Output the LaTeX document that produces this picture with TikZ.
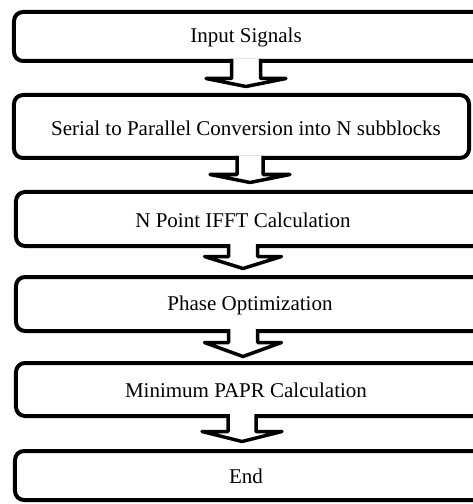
\documentclass[tikz,border=0pt]{standalone}
\usepackage{fontspec}
\setmainfont{Liberation Serif}
\usetikzlibrary{calc}
\tikzset{
  stepbox/.style={draw=black, fill=white, line width=4bp, rounded corners=9bp,
    rectangle, inner sep=0pt, outer sep=0pt},
  steptext/.style={font=\fontsize{21bp}{25bp}\selectfont, inner sep=0pt, anchor=center},
  barrow/.style={draw=black, fill=white, line width=3.5bp, line join=round}
}
\begin{document}
\begin{tikzpicture}[x=1bp, y=-1bp]
\useasboundingbox (0,0) rectangle (473,504);
\clip (0,0) rectangle (473,504);
\fill[white] (0,0) rectangle (473,504);

% boxes
\node[stepbox, minimum width=468bp, minimum height=49bp] (b1) at (248,36.5) {};
\node[stepbox, minimum width=455bp, minimum height=63bp] (b2) at (241.5,126.5) {};
\node[stepbox, minimum width=466bp, minimum height=54bp] (b3) at (249,219) {};
\node[stepbox, minimum width=466bp, minimum height=54bp] (b4) at (249,304) {};
\node[stepbox, minimum width=466bp, minimum height=53bp] (b5) at (249,389.5) {};
\node[stepbox, minimum width=467bp, minimum height=49bp] (b6) at (248.5,475.5) {};

% texts
\node[steptext] (t1) at (246,37) {Input Signals};
\node[steptext] (t2) at (246,128) {Serial to Parallel Conversion into N subblocks};
\node[steptext] (t3) at (243,220) {N Point IFFT Calculation};
\node[steptext] (t4) at (250,305) {Phase Optimization};
\node[steptext] (t5) at (246,390) {Minimum PAPR Calculation};
\node[steptext] (t6) at (246,476) {End};

% arrow centre lines
\coordinate (c1) at (246,0);
\coordinate (c2) at (250,0);
\coordinate (c3) at (243,0);
\coordinate (c4) at (243,0);
\coordinate (c5) at (242,0);

% block arrows
\draw[barrow] (c1 |- b1.south) ++(-14.5,-2) -- ++(0,19.5) -- ++(-25.5,0) -- ++(40,8) -- ++(40,-8) -- ++(-25.5,0) -- ++(0,-19.5);
\draw[barrow] (c2 |- b2.south) ++(-13,-2) -- ++(0,18.5) -- ++(-27,0) -- ++(40,8) -- ++(40,-8) -- ++(-27,0) -- ++(0,-18.5);
\draw[barrow] (c3 |- b3.south) ++(-14.5,-2) -- ++(0,12.5) -- ++(-24,0) -- ++(38.5,12) -- ++(38.5,-12) -- ++(-24,0) -- ++(0,-12.5);
\draw[barrow] (c4 |- b4.south) ++(-14.5,-2) -- ++(0,13.5) -- ++(-24,0) -- ++(38.5,14) -- ++(38.5,-14) -- ++(-24,0) -- ++(0,-13.5);
\draw[barrow] (c5 |- b5.south) ++(-14,-2) -- ++(0,17.5) -- ++(-26,0) -- ++(40,10) -- ++(40,-10) -- ++(-26,0) -- ++(0,-17.5);
\end{tikzpicture}
\end{document}
